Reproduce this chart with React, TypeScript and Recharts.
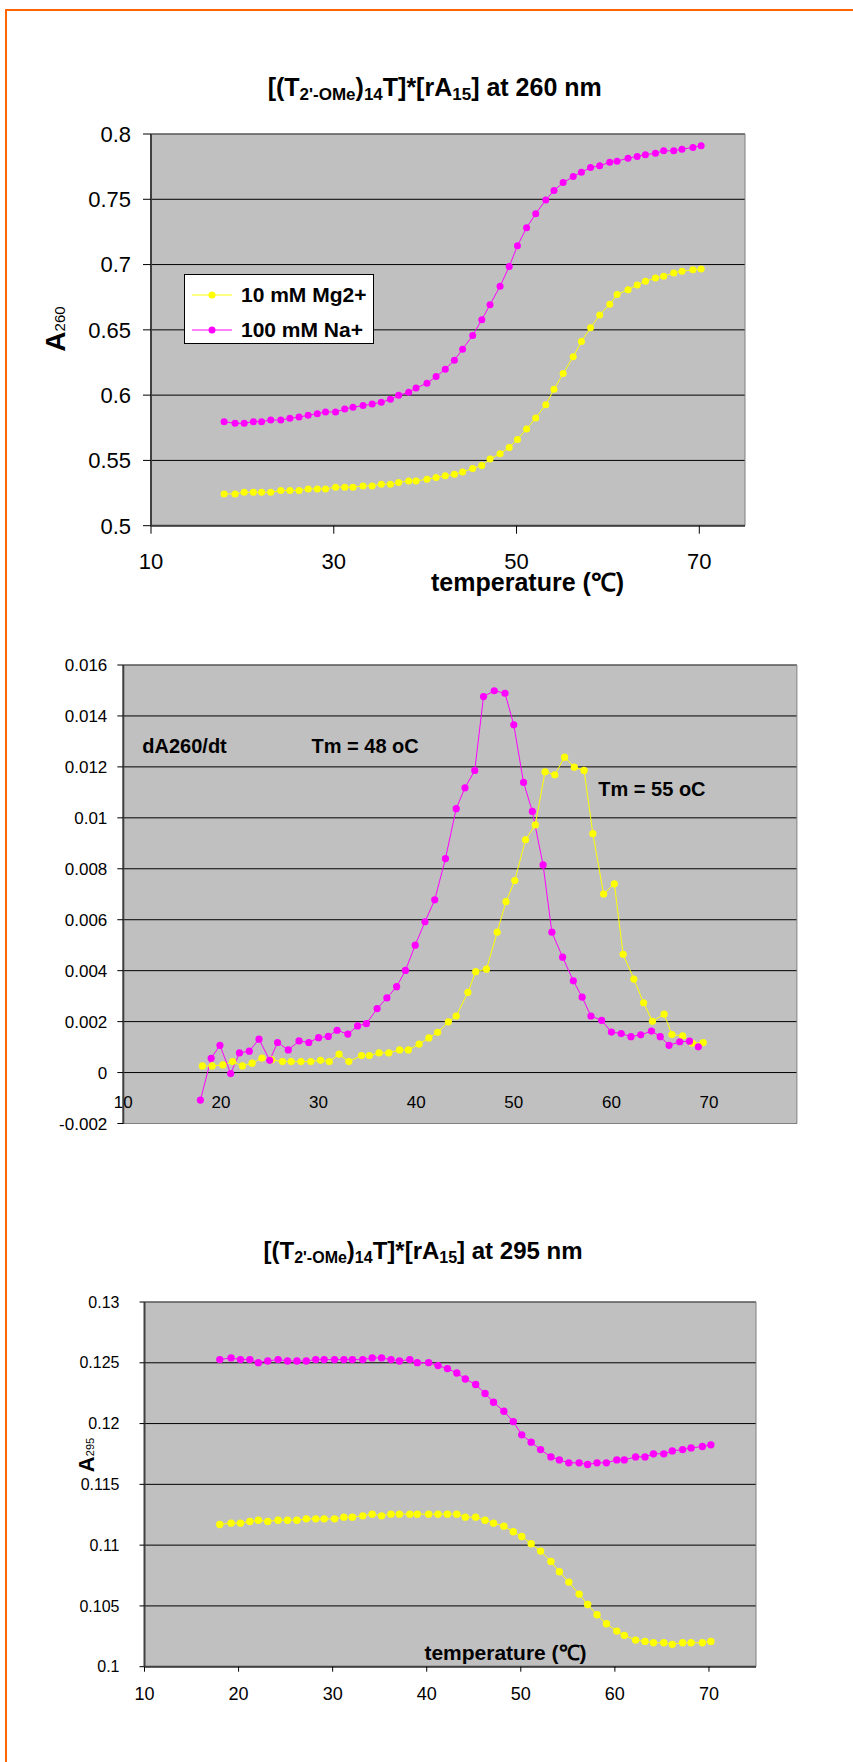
import { CartesianGrid, Legend, Line, LineChart, ReferenceArea, XAxis, YAxis } from 'recharts'

const FONT = "'Liberation Sans', Arial, Helvetica, sans-serif"
const YELLOW = '#FFFF00'
const MAGENTA = '#FF00FF'
const PLOT_BG = '#C0C0C0'
const FRAME = '#808080'
const AXIS = '#404040'
const ORANGE = '#FF6600'

// temperatures (C) of the melting scans, same run for 260 nm and 295 nm
const meltTemps = [
  18.0, 19.2, 20.2, 21.2, 22.1, 23.1, 24.2, 25.2, 26.2, 27.2, 28.2, 29.1, 30.2, 31.2, 32.1, 33.2, 34.2, 35.2,
  36.2, 37.1, 38.2, 39.0, 40.2, 41.2, 42.2, 43.2, 44.1, 45.2, 46.2, 47.1, 48.2, 49.2, 50.1, 51.1, 52.1, 53.2,
  54.1, 55.1, 56.2, 57.1, 58.1, 59.1, 60.2, 61.0, 62.2, 63.2, 64.1, 65.2, 66.1, 67.2, 68.1, 69.3, 70.2,
]

// A260, 10 mM Mg2+
const a260Mg = [
  0.5243, 0.5243, 0.5256, 0.5256, 0.5256, 0.5256, 0.5269, 0.5269, 0.5269, 0.5282, 0.5282, 0.5282, 0.5295, 0.5295,
  0.5295, 0.5305, 0.5305, 0.5318, 0.5318, 0.533, 0.5343, 0.5343, 0.5356, 0.5369, 0.5382, 0.5394, 0.5412, 0.5438,
  0.5461, 0.551, 0.5551, 0.5599, 0.5661, 0.574, 0.5825, 0.5927, 0.6045, 0.6165, 0.6294, 0.6411, 0.6516, 0.6614,
  0.6696, 0.677, 0.6808, 0.6844, 0.6872, 0.6898, 0.6911, 0.6936, 0.6949, 0.696, 0.6967,
]

// A260, 100 mM Na+
const a260Na = [
  0.5797, 0.5784, 0.5784, 0.5797, 0.5797, 0.5809, 0.5809, 0.5822, 0.5832, 0.5845, 0.5858, 0.5871, 0.5871, 0.5894,
  0.5907, 0.592, 0.5932, 0.5945, 0.5968, 0.5999, 0.6022, 0.6055, 0.6091, 0.6142, 0.6199, 0.6268, 0.6352, 0.6457,
  0.6578, 0.6693, 0.6834, 0.6985, 0.7144, 0.7282, 0.739, 0.7495, 0.7567, 0.7628, 0.7674, 0.7707, 0.7743, 0.7756,
  0.7784, 0.7792, 0.7815, 0.7828, 0.7841, 0.7853, 0.7871, 0.7871, 0.7884, 0.7897, 0.791,
]

// dA260/dt
const derivTempsMg = [
  18.1, 19.1, 20.2, 21.2, 22.2, 23.2, 24.2, 25.2, 26.3, 27.2, 28.2, 29.2, 30.2, 31.1, 32.1, 33.1, 34.4, 35.2,
  36.2, 37.2, 38.3, 39.2, 40.3, 41.3, 42.2, 43.3, 44.1, 45.3, 46.1, 47.2, 48.3, 49.2, 50.1, 51.2, 52.2, 53.2,
  54.2, 55.2, 56.2, 57.2, 58.1, 59.2, 60.3, 61.2, 62.3, 63.3, 64.2, 65.4, 66.2, 67.3, 68.3, 69.4,
]
const derivMg = [
  0.00026, 0.00026, 0.0003, 0.00043, 0.00026, 0.00037, 0.00057, 0.0005, 0.00043, 0.00043, 0.00043, 0.00043,
  0.00048, 0.00043, 0.00072, 0.00043, 0.00067, 0.00067, 0.00077, 0.00077, 0.00089, 0.00089, 0.00112, 0.00136,
  0.00158, 0.00199, 0.00222, 0.00315, 0.00396, 0.00406, 0.00551, 0.00671, 0.00754, 0.00914, 0.00972, 0.01181,
  0.01169, 0.01238, 0.01199, 0.01186, 0.00938, 0.00701, 0.00741, 0.00464, 0.00367, 0.00274, 0.00201, 0.00229,
  0.00149, 0.00144, 0.00115, 0.00118,
]
const derivTempsNa = [
  17.9, 19.0, 19.9, 21.0, 21.9, 22.9, 23.9, 25.0, 25.8, 26.9, 28.0, 29.0, 30.0, 31.0, 31.9, 33.0, 34.0, 34.9,
  36.0, 37.0, 38.0, 38.9, 39.9, 40.9, 41.9, 43.0, 44.1, 45.0, 46.0, 46.9, 48.0, 49.1, 50.0, 51.0, 51.9, 53.0,
  53.9, 55.0, 56.1, 57.0, 57.9, 59.0, 60.0, 61.0, 62.0, 63.0, 64.1, 65.0, 65.9, 67.0, 68.0, 68.9,
]
const derivNa = [
  -0.00108, 0.00056, 0.00107, -0.00004, 0.00077, 0.00084, 0.00131, 0.00048, 0.00118, 0.00089, 0.00124, 0.00118,
  0.00137, 0.00142, 0.00166, 0.00151, 0.00183, 0.00192, 0.00251, 0.00293, 0.00337, 0.00401, 0.005, 0.00592,
  0.00678, 0.0084, 0.01036, 0.01118, 0.01186, 0.01476, 0.01499, 0.01489, 0.01365, 0.01139, 0.01025, 0.00815,
  0.00551, 0.00453, 0.0036, 0.00296, 0.00222, 0.00205, 0.00159, 0.00153, 0.00141, 0.00148, 0.00163, 0.00141,
  0.00107, 0.00121, 0.00123, 0.00101,
]

// A295
const a295Mg = [
  0.1117, 0.11181, 0.11181, 0.11195, 0.11205, 0.11195, 0.11205, 0.11205, 0.11205, 0.11216, 0.11216, 0.11216,
  0.11216, 0.1123, 0.1123, 0.11241, 0.11255, 0.11241, 0.11255, 0.11255, 0.11255, 0.11255, 0.11255, 0.11255,
  0.11255, 0.11255, 0.1123, 0.1123, 0.11205, 0.11181, 0.11156, 0.1111, 0.11071, 0.11011, 0.10951, 0.10866,
  0.10781, 0.10696, 0.10597, 0.10512, 0.10427, 0.10353, 0.10293, 0.10258, 0.10219, 0.10208, 0.10197, 0.10197,
  0.10184, 0.10197, 0.10197, 0.10197, 0.10208,
]
const a295Na = [
  0.12526, 0.1254, 0.12526, 0.12526, 0.12501, 0.12515, 0.12526, 0.12515, 0.12515, 0.12515, 0.12526, 0.12526,
  0.12526, 0.12526, 0.12526, 0.12526, 0.1254, 0.1254, 0.12526, 0.12515, 0.12526, 0.12501, 0.12501, 0.12477,
  0.12452, 0.12416, 0.12367, 0.12321, 0.12247, 0.12175, 0.12101, 0.12016, 0.11907, 0.11847, 0.11786, 0.11726,
  0.11701, 0.11677, 0.11677, 0.11663, 0.11677, 0.11677, 0.11701, 0.11701, 0.11726, 0.11726, 0.11751, 0.11751,
  0.11775, 0.11786, 0.118, 0.11811, 0.11825,
]

const seriesNames = ['10 mM Mg2+', '100 mM Na+']
const xTicks260 = [10, 30, 50, 70]
const xTicks = [10, 20, 30, 40, 50, 60, 70]
const yTicks260 = [0.5, 0.55, 0.6, 0.65, 0.7, 0.75, 0.8]
const yTicksDeriv = [-0.002, 0, 0.002, 0.004, 0.006, 0.008, 0.01, 0.012, 0.014, 0.016]
const yTicks295 = [0.1, 0.105, 0.11, 0.115, 0.12, 0.125, 0.13]

const rows = (xs: number[], ys: number[]) => xs.map((t, i) => ({ t, v: ys[i] }))

function dotStyle(color: string, r: number) {
  return { r, fill: color, stroke: color, strokeWidth: 0 }
}

function LegendBox(props: any) {
  const payload = props.payload ?? []
  return (
    <div
      style={{
        width: 190,
        height: 70,
        boxSizing: 'border-box',
        border: '1px solid #000',
        background: '#fff',
        position: 'relative',
      }}
    >
      {payload.map((p: any, i: number) => (
        <div
          key={i}
          style={{ position: 'absolute', left: 6, top: 8 + i * 35, height: 24, display: 'flex', alignItems: 'center' }}
        >
          <svg width={42} height={24}>
            <line x1={1} y1={12} x2={41} y2={12} stroke={p.color} strokeWidth={1} />
            <circle cx={21} cy={12} r={3.5} fill={p.color} />
          </svg>
          <span style={{ marginLeft: 8, fontSize: 21, fontWeight: 'bold', fontFamily: FONT, color: '#000' }}>
            {p.value}
          </span>
        </div>
      ))}
    </div>
  )
}

function InnerXTick(p: any) {
  // x axis of the derivative plot crosses at y = 0, labels sit just under that line
  return (
    <text x={p.x} y={p.y - 15.3} textAnchor="middle" fontSize={17} fontFamily={FONT} fill="#000">
      {p.payload?.value}
    </text>
  )
}

const tickFont = (size: number) => ({ fontSize: size, fill: '#000', fontFamily: FONT })

export default function App() {
  return (
    <div
      style={{
        position: 'absolute',
        left: 0,
        top: 0,
        width: 853,
        height: 1762,
        background: '#fff',
        overflow: 'hidden',
        fontFamily: FONT,
      }}
    >
      {/* A260 melting curves */}
      <div style={{ position: 'absolute', left: 0, top: 0 }}>
        <LineChart width={853} height={620} margin={{ top: 134, right: 108, bottom: 34.3, left: 0 }}>
          <CartesianGrid vertical={false} stroke="#000" fill={PLOT_BG} fillOpacity={1} />
          <ReferenceArea x1={10} x2={75} y1={0.5} y2={0.8} fill="none" stroke={FRAME} ifOverflow="visible" />
          <XAxis
            type="number"
            dataKey="t"
            domain={[10, 75]}
            ticks={xTicks260}
            interval={0}
            height={60}
            tickSize={8}
            tickMargin={20}
            tick={tickFont(22)}
            axisLine={{ stroke: AXIS, strokeWidth: 2 }}
            tickLine={{ stroke: '#000' }}
          />
          <YAxis
            type="number"
            domain={[0.5, 0.8]}
            ticks={yTicks260}
            interval={0}
            width={151}
            tickSize={8}
            tickMargin={12}
            tick={tickFont(22)}
            axisLine={{ stroke: AXIS, strokeWidth: 2 }}
            tickLine={{ stroke: '#000' }}
          />
          <Legend
            layout="vertical"
            align="center"
            verticalAlign="middle"
            wrapperStyle={{ left: 184, top: 274, width: 190, height: 70 }}
            content={LegendBox}
          />
          <Line
            data={rows(meltTemps, a260Mg)}
            dataKey="v"
            name={seriesNames[0]}
            stroke={YELLOW}
            strokeWidth={1}
            dot={dotStyle(YELLOW, 3.5)}
            activeDot={false}
            isAnimationActive={false}
          />
          <Line
            data={rows(meltTemps, a260Na)}
            dataKey="v"
            name={seriesNames[1]}
            stroke={MAGENTA}
            strokeWidth={1}
            dot={dotStyle(MAGENTA, 3.5)}
            activeDot={false}
            isAnimationActive={false}
          />
        </LineChart>
      </div>

      {/* first derivative */}
      <div style={{ position: 'absolute', left: 0, top: 600 }}>
        <LineChart width={853} height={560} margin={{ top: 65, right: 56.1, bottom: 6.5, left: 0 }}>
          <CartesianGrid vertical={false} stroke="#000" fill={PLOT_BG} fillOpacity={1} />
          <ReferenceArea x1={10} x2={79} y1={-0.002} y2={0.016} fill="none" stroke={FRAME} ifOverflow="visible" />
          <XAxis
            type="number"
            dataKey="t"
            domain={[10, 79]}
            ticks={xTicks}
            interval={0}
            height={30}
            tickSize={0}
            tickMargin={0}
            tick={<InnerXTick />}
            axisLine={false}
            tickLine={false}
          />
          <YAxis
            type="number"
            domain={[-0.002, 0.016]}
            ticks={yTicksDeriv}
            interval={0}
            width={123.3}
            tickSize={6}
            tickMargin={10}
            tick={tickFont(17)}
            axisLine={{ stroke: AXIS, strokeWidth: 2 }}
            tickLine={{ stroke: '#000' }}
          />
          <Line
            data={rows(derivTempsMg, derivMg)}
            dataKey="v"
            name={seriesNames[0]}
            stroke={YELLOW}
            strokeWidth={1}
            dot={dotStyle(YELLOW, 3.6)}
            activeDot={false}
            isAnimationActive={false}
          />
          <Line
            data={rows(derivTempsNa, derivNa)}
            dataKey="v"
            name={seriesNames[1]}
            stroke={MAGENTA}
            strokeWidth={1}
            dot={dotStyle(MAGENTA, 3.6)}
            activeDot={false}
            isAnimationActive={false}
          />
        </LineChart>
      </div>

      {/* A295 curves */}
      <div style={{ position: 'absolute', left: 0, top: 1200 }}>
        <LineChart width={853} height={562} margin={{ top: 102, right: 97, bottom: 45.3, left: 0 }}>
          <CartesianGrid vertical={false} stroke="#000" fill={PLOT_BG} fillOpacity={1} />
          <ReferenceArea x1={10} x2={75} y1={0.1} y2={0.13} fill="none" stroke={FRAME} ifOverflow="visible" />
          <XAxis
            type="number"
            dataKey="t"
            domain={[10, 75]}
            ticks={xTicks}
            interval={0}
            height={50}
            tickSize={5}
            tickMargin={16}
            tick={tickFont(18)}
            axisLine={{ stroke: AXIS, strokeWidth: 2 }}
            tickLine={{ stroke: '#000' }}
          />
          <YAxis
            type="number"
            domain={[0.1, 0.13]}
            ticks={yTicks295}
            interval={0}
            width={144.5}
            tickSize={5}
            tickMargin={20}
            tick={tickFont(16)}
            axisLine={{ stroke: AXIS, strokeWidth: 2 }}
            tickLine={{ stroke: '#000' }}
          />
          <Line
            data={rows(meltTemps, a295Mg)}
            dataKey="v"
            name={seriesNames[0]}
            stroke={YELLOW}
            strokeWidth={1}
            dot={dotStyle(YELLOW, 3.7)}
            activeDot={false}
            isAnimationActive={false}
          />
          <Line
            data={rows(meltTemps, a295Na)}
            dataKey="v"
            name={seriesNames[1]}
            stroke={MAGENTA}
            strokeWidth={1}
            dot={dotStyle(MAGENTA, 3.7)}
            activeDot={false}
            isAnimationActive={false}
          />
        </LineChart>
      </div>

      {/* titles, axis titles, notes and the page frame */}
      <svg
        width={853}
        height={1762}
        style={{ position: 'absolute', left: 0, top: 0, pointerEvents: 'none' }}
        fontFamily={FONT}
      >
        <line x1={5} y1={10} x2={853} y2={10} stroke={ORANGE} strokeWidth={2} />
        <line x1={6} y1={9} x2={6} y2={1762} stroke={ORANGE} strokeWidth={2} />

        <text x={434.7} y={96} textAnchor="middle" fontWeight="bold" fontSize={25} fill="#000">
          [(T<tspan fontSize={17} dy={4}>2'-OMe</tspan>
          <tspan dy={-4}>)</tspan>
          <tspan fontSize={17} dy={4}>14</tspan>
          <tspan dy={-4}>T]*[rA</tspan>
          <tspan fontSize={17} dy={4}>15</tspan>
          <tspan dy={-4}>] at 260 nm</tspan>
        </text>
        <text transform="translate(65, 329) rotate(-90)" textAnchor="middle" fill="#000">
          <tspan fontSize={28} fontWeight="bold">A</tspan>
          <tspan fontSize={15}>260</tspan>
        </text>
        <text x={527.6} y={591} textAnchor="middle" fontWeight="bold" fontSize={25} fill="#000">
          temperature (℃)
        </text>

        <text x={142.3} y={753} fontWeight="bold" fontSize={20} fill="#000">
          dA260/dt
        </text>
        <text x={311.5} y={753} fontWeight="bold" fontSize={20} fill="#000">
          Tm = 48 oC
        </text>
        <text x={598.3} y={795.7} fontWeight="bold" fontSize={20} fill="#000">
          Tm = 55 oC
        </text>

        <text x={423} y={1259} textAnchor="middle" fontWeight="bold" fontSize={24} fill="#000">
          [(T<tspan fontSize={16} dy={4}>2'-OMe</tspan>
          <tspan dy={-4}>)</tspan>
          <tspan fontSize={16} dy={4}>14</tspan>
          <tspan dy={-4}>T]*[rA</tspan>
          <tspan fontSize={16} dy={4}>15</tspan>
          <tspan dy={-4}>] at 295 nm</tspan>
        </text>
        <text transform="translate(94, 1455) rotate(-90)" textAnchor="middle" fill="#000">
          <tspan fontSize={22} fontWeight="bold">A</tspan>
          <tspan fontSize={11}>295</tspan>
        </text>
        <text x={505.5} y={1660} textAnchor="middle" fontWeight="bold" fontSize={21} fill="#000">
          temperature (℃)
        </text>
      </svg>
    </div>
  )
}
